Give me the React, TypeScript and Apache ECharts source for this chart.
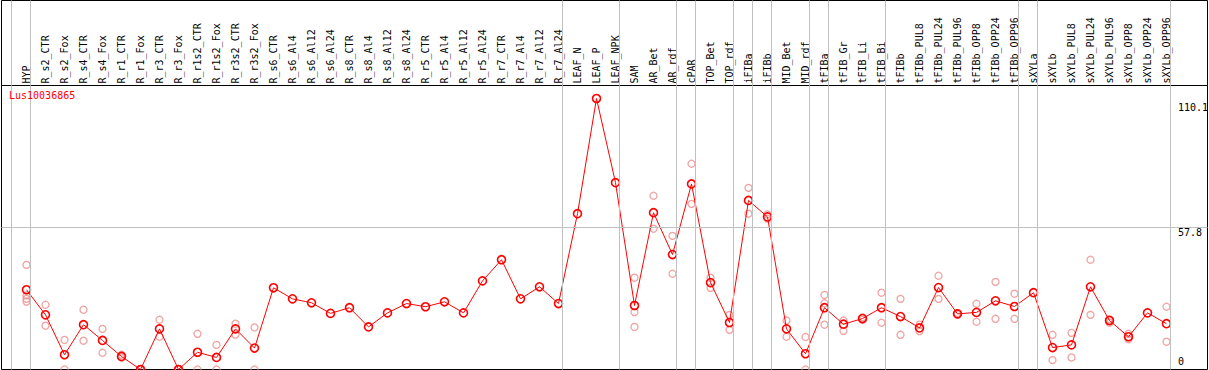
import React, { useEffect, useRef } from 'react';
import * as echarts from 'echarts';

const geneName = 'Lus10036865';

const categories = [
  'HYP', 'R_s2_CTR', 'R_s2_Fox', 'R_s4_CTR', 'R_s4_Fox', 'R_r1_CTR', 'R_r1_Fox', 'R_r3_CTR', 'R_r3_Fox',
  'R_r1s2_CTR', 'R_r1s2_Fox', 'R_r3s2_CTR', 'R_r3s2_Fox', 'R_s6_CTR', 'R_s6_Al4', 'R_s6_Al12', 'R_s6_Al24',
  'R_s8_CTR', 'R_s8_Al4', 'R_s8_Al12', 'R_s8_Al24', 'R_r5_CTR', 'R_r5_Al4', 'R_r5_Al12', 'R_r5_Al24',
  'R_r7_CTR', 'R_r7_Al4', 'R_r7_Al12', 'R_r7_Al24', 'LEAF_N', 'LEAF_P', 'LEAF_NPK', 'SAM', 'AR_Bet', 'AR_rdf',
  'cPAR', 'TOP_Bet', 'TOP_rdf', 'iFIBa', 'iFIBb', 'MID_Bet', 'MID_rdf', 'tFIBa', 'tFIB_Gr', 'tFIB_Li', 'tFIB_Bi',
  'tFIBb', 'tFIBb_PUL8', 'tFIBb_PUL24', 'tFIBb_PUL96', 'tFIBb_OPP8', 'tFIBb_OPP24', 'tFIBb_OPP96', 'sXYLa',
  'sXYLb', 'sXYLb_PUL8', 'sXYLb_PUL24', 'sXYLb_PUL96', 'sXYLb_OPP8', 'sXYLb_OPP24', 'sXYLb_OPP96',
];

const meanValues = [
  32.4, 22.2, 6.0, 18.2, 11.8, 5.3, 0, 16.5, 0, 7.0, 4.9, 16.5, 8.7,
  33.2, 28.7, 27.1, 22.8, 25.1, 17.3, 23.0, 26.8, 25.5, 27.5, 23.0, 36.0, 44.6, 28.7, 33.6, 26.8,
  63.3, 110.1, 75.9, 26.0, 63.7, 46.7, 75.4, 35.3, 19.1, 68.7, 62.0, 16.5, 6.4,
  25.1, 18.4, 20.7, 25.1, 21.5, 16.9, 33.3, 22.6, 23.2, 27.9, 25.6,
  31.2, 8.9, 10.0, 33.6, 19.9, 13.3, 23.0, 18.6,
];

const replicateValues: number[][] = [
  [42.5, 30.1, 28.7, 27.6], [26.3, 17.8], [12.0, 0], [24.3, 11.7], [16.5, 6.8], [6.0, 4.8], [0, 0],
  [20.2, 13.3], [0, 0], [14.5, 0], [10.0, 0], [18.6, 14.2], [17.1, 0],
  [], [], [], [], [], [], [], [], [], [], [], [], [], [], [], [],
  [], [], [],
  [37.3, 23.3, 17.3], [70.6, 57.2], [54.3, 38.9], [83.6, 67.3], [37.3, 33.2], [22.2, 16.1],
  [73.8, 63.3], [63.0, 61.3], [19.9, 13.3], [13.2, 0],
  [30.3, 26.9, 18.2], [19.9, 15.7], [21.2, 20.2], [31.2, 19.0], [28.7, 14.1], [18.2, 15.6],
  [38.1, 28.7], [22.9, 22.3], [26.7, 19.4], [35.6, 20.6], [30.8, 20.6],
  [], [14.1, 3.8], [14.9, 4.9], [44.6, 22.2], [20.4, 19.0], [14.5, 12.3], [], [25.5, 11.3],
];

// index of the last category of each group (separator drawn after it)
const groupEnds = [-1, 0, 28, 31, 34, 35, 37, 38, 39, 41, 42, 45, 52, 53, 60];

const yTickValues = [0, 57.8, 110.1];
const yTickLabels = ['0', '57.8', '110.1'];
const yTickStyles = ['lo', 'mid', 'hi'];
const midLineValue = 57.8;

const FONT = 'DejaVu Sans Mono';

export default function App() {
  const ref = useRef<HTMLDivElement>(null);

  useEffect(() => {
    if (!ref.current) return;
    document.body.style.margin = '0';
    document.body.style.padding = '0';
    const chart = echarts.init(ref.current, null, { renderer: 'svg', width: 1209, height: 370 });

    const xMin = -25 / 19;
    const xMax = xMin + 1206 / 19;
    const yMax = 284 / ((369.5 - 98.5) / 110.1);

    const separatorData = groupEnds.map((k) => ({ xAxis: k + 0.21 }));
    const markLineBase = {
      silent: true,
      symbol: ['none', 'none'],
      label: { show: false },
      emphasis: { disabled: true },
      lineStyle: { color: '#c0c0c0', width: 1, type: 'solid', opacity: 1 },
    };

    const replicatePoints: number[][] = [];
    replicateValues.forEach((reps, i) => reps.forEach((v) => replicatePoints.push([i, v])));

    const option: any = {
      animation: false,
      backgroundColor: '#ffffff',
      title: {
        text: geneName,
        left: 9,
        top: 90,
        padding: 0,
        textStyle: { color: '#ff0000', fontSize: 10, fontWeight: 'normal', fontFamily: FONT },
      },
      tooltip: { show: false },
      grid: [
        {
          left: 1.5, top: 85.5, width: 1206, height: 284,
          show: true, borderColor: '#000000', borderWidth: 1, backgroundColor: 'transparent',
          containLabel: false, outerBoundsMode: 'none',
        },
        {
          left: 1.5, top: 0.5, width: 1206, height: 85,
          show: true, borderColor: '#000000', borderWidth: 1, backgroundColor: 'transparent',
          containLabel: false, outerBoundsMode: 'none',
        },
      ],
      xAxis: [
        {
          gridIndex: 0, type: 'value', position: 'top', min: xMin, max: xMax,
          axisLine: { show: false }, axisTick: { show: false }, splitLine: { show: false },
          axisLabel: {
            show: true,
            customValues: categories.map((_, i) => i),
            formatter: (v: number) => categories[Math.round(v)] ?? '',
            rotate: 90, margin: 2,
            fontFamily: FONT, fontSize: 10, color: '#000000',
          },
        },
        { gridIndex: 1, type: 'value', min: xMin, max: xMax, show: false },
      ],
      yAxis: [
        {
          gridIndex: 0, type: 'value', position: 'right', min: 0, max: yMax,
          axisLine: { show: false }, axisTick: { show: false }, splitLine: { show: false },
          axisLabel: {
            show: true, inside: true, align: 'left', verticalAlign: 'middle', margin: 29.5,
            customValues: yTickValues,
            formatter: (v: number) => {
              const idx = yTickValues.findIndex((t) => Math.abs(t - v) < 1e-6);
              if (idx < 0) return '';
              return `{${yTickStyles[idx]}|${yTickLabels[idx]}}`;
            },
            fontFamily: FONT, fontSize: 10, color: '#000000',
            rich: {
              lo: { fontFamily: FONT, fontSize: 10, color: '#000', lineHeight: 12, padding: [0, 0, 16, 0] },
              mid: { fontFamily: FONT, fontSize: 10, color: '#000', lineHeight: 12, padding: [10, 0, 0, 0] },
              hi: { fontFamily: FONT, fontSize: 10, color: '#000', lineHeight: 12, padding: [17, 0, 0, 0] },
            },
          },
        },
        { gridIndex: 1, type: 'value', min: 0, max: 1, show: false },
      ],
      series: [
        {
          type: 'line', xAxisIndex: 1, yAxisIndex: 1, silent: true, z: 1,
          data: [[0, 0.5]], showSymbol: false, lineStyle: { opacity: 0 },
          markLine: { ...markLineBase, data: separatorData },
        },
        {
          type: 'line', xAxisIndex: 0, yAxisIndex: 0, silent: true, z: 1,
          data: [[0, 1]], showSymbol: false, lineStyle: { opacity: 0 },
          markLine: { ...markLineBase, data: [...separatorData, { yAxis: midLineValue }] },
        },
        {
          type: 'scatter', xAxisIndex: 0, yAxisIndex: 0, silent: true, z: 2, clip: false,
          data: replicatePoints,
          symbol: 'circle', symbolSize: 7,
          itemStyle: { color: 'rgba(0,0,0,0)', borderColor: '#ec8c8c', borderWidth: 1.3 },
          emphasis: { disabled: true },
        },
        {
          type: 'line', xAxisIndex: 0, yAxisIndex: 0, silent: true, z: 3, clip: false,
          data: meanValues.map((v, i) => [i, v]),
          symbol: 'circle', symbolSize: 8, showSymbol: true,
          lineStyle: { color: '#ff0000', width: 1 },
          itemStyle: { color: 'rgba(0,0,0,0)', borderColor: '#ff0000', borderWidth: 1.6 },
          emphasis: { disabled: true },
        },
      ],
    };

    chart.setOption(option);
    return () => chart.dispose();
  }, []);

  return <div ref={ref} style={{ width: 1209, height: 370, margin: 0, padding: 0 }} />;
}
